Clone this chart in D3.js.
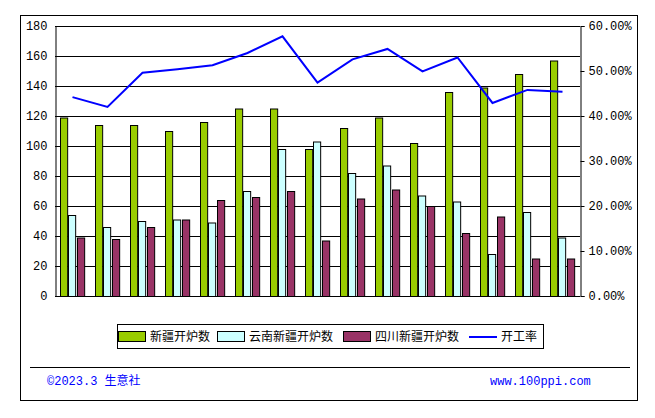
<!DOCTYPE html><html><head><meta charset="utf-8"><script src="https://d3js.org/d3.v7.min.js"></script>
<style>body{margin:0;background:#fff}text{font-family:"Liberation Mono","Noto Sans CJK SC",monospace;font-size:12px}</style></head><body><script>
const categories=d3.range(1,16).map(String);
const xinjiang=[119,114,114,110,116,125,125,98,112,119,102,136,139,148,157];
const yunnan=[54,46,50,51,49,70,98,103,82,87,67,63,28,56,39];
const sichuan=[39,38,46,51,64,66,70,37,65,71,60,42,53,25,25];
const rate=[44.2,42.0,49.6,50.4,51.3,54.0,57.7,47.4,52.6,54.9,49.9,53.0,42.9,45.8,45.4];
const leftTicks=[0,20,40,60,80,100,120,140,160,180];
const rightTicks=[0,10,20,30,40,50,60];
const names=["新疆开炉数","云南新疆开炉数","四川新疆开炉数","开工率"];
const colors=["#99cc00","#ccffff","#993366","#0000ff"];
const svg=d3.select("body").append("svg").attr("width",655).attr("height",418);
svg.append("rect").attr("x",20.5).attr("y",15.5).attr("width",617).attr("height",385).attr("fill","#fff").attr("stroke","#000");
const L=55,R=580,T=26,B=296;
const x=d3.scaleBand().domain(categories).range([L,R]).paddingInner(0.3).paddingOuter(0.15);
const y=d3.scaleLinear().domain([0,180]).range([B,T]);
const y2=d3.scaleLinear().domain([0,60]).range([B,T]);
const g=svg.append("g");
g.selectAll(".gl").data(leftTicks).join("line").attr("x1",L).attr("x2",R).attr("y1",d=>y(d)+.5).attr("y2",d=>y(d)+.5).attr("stroke","#000");
const ax=svg.append("g").attr("transform",`translate(${L+.5},0)`).call(d3.axisLeft(y).tickValues(leftTicks).tickSize(0).tickPadding(8));
ax.select(".domain").attr("stroke","#000");
const ax2=svg.append("g").attr("transform",`translate(${R+.5},0)`).call(d3.axisRight(y2).tickValues(rightTicks).tickSize(4).tickPadding(4).tickFormat(d=>d.toFixed(2)+"%"));
ax2.selectAll("text").attr("font-size","12px");
svg.selectAll(".tick text").attr("fill","#000");
const xs=d3.scaleBand().domain([0,1,2]).range([0,x.bandwidth()]);
[xinjiang,yunnan,sichuan].forEach((s,i)=>{
 g.selectAll(".b"+i).data(s).join("rect").attr("x",(d,j)=>Math.round(x(categories[j])+xs(i))+.5).attr("y",d=>y(d)+.5).attr("width",xs.bandwidth()-1).attr("height",d=>B-y(d)).attr("fill",colors[i]).attr("stroke","#000");
});
g.append("line").attr("x1",L).attr("x2",R).attr("y1",B+.5).attr("y2",B+.5).attr("stroke","#000");
g.append("path").datum(rate).attr("fill","none").attr("stroke",colors[3]).attr("stroke-width",2)
 .attr("d",d3.line().x((d,j)=>x(categories[j])+x.bandwidth()/2).y(d=>y2(d)));
// legend
const lg=svg.append("g");
lg.append("rect").attr("x",117.5).attr("y",324.5).attr("width",426).attr("height",24).attr("fill","#fff").attr("stroke","#000");
const lx=[118,217,343,469];
names.forEach((n,i)=>{
 if(i<3) lg.append("rect").attr("x",lx[i]+.5).attr("y",331.5).attr("width",27).attr("height",10).attr("fill",colors[i]).attr("stroke","#000");
 else lg.append("line").attr("x1",lx[i]).attr("x2",lx[i]+28).attr("y1",337).attr("y2",337).attr("stroke",colors[3]).attr("stroke-width",2);
 lg.append("text").attr("x",lx[i]+32).attr("y",341).text(n).attr("font-family","Noto Sans CJK SC").attr("font-size","13px");
});
svg.append("line").attr("x1",30).attr("x2",630).attr("y1",367.5).attr("y2",367.5).attr("stroke","#000");
svg.append("text").attr("x",47).attr("y",385).attr("fill","#0000ff").text("©2023.3 生意社");
svg.append("text").attr("x",490).attr("y",385).attr("fill","#0000ff").text("www.100ppi.com");
</script></body></html>
